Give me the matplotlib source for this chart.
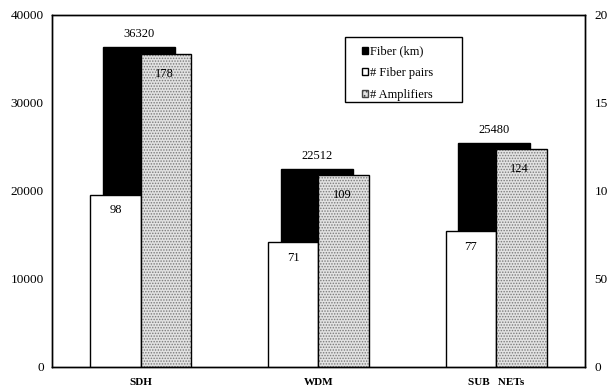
import numpy as np
import matplotlib.pyplot as plt
from matplotlib.patches import Patch, Rectangle

plt.rcParams['font.family'] = ['Liberation Serif', 'DejaVu Serif']
plt.rcParams['hatch.linewidth'] = 0.7

networks = ['SDH', 'WDM', 'SUB   NETs']
fiber_km = [36320, 22512, 25480]
fiber_pairs = [98, 71, 77]
amplifiers = [178, 109, 124]

x = np.arange(len(networks))
w = 0.285

fig = plt.figure(figsize=(6.07, 3.91), dpi=100)
ax = fig.add_axes([0.0857, 0.0614, 0.878, 0.9003])
ax2 = ax.twinx()

# fiber length on the left scale, drawn behind
ax.bar(x - 0.01, fiber_km, width=0.405, color='black', edgecolor='black', lw=1)
for xi, v in zip(x, fiber_km):
    ax.annotate(str(v), (xi - 0.01, v), xytext=(0, 5), textcoords='offset points',
                ha='center', va='bottom', fontsize=9)

# counts on the right scale
ax2.bar(x - w / 2, fiber_pairs, width=w, color='white', edgecolor='black', lw=1)
ax2.bar(x + w / 2, amplifiers, width=w, facecolor='#e2e2e2', edgecolor='#7a7a7a',
        hatch='......', lw=0)
ax2.bar(x + w / 2, amplifiers, width=w, fill=False, edgecolor='black', lw=1)

for xi, v in zip(x, fiber_pairs):
    ax2.annotate(str(v), (xi - w / 2, v), xytext=(0, -7), textcoords='offset points',
                 ha='center', va='top', fontsize=9)
for xi, v in zip(x, amplifiers):
    ax2.annotate(str(v), (xi + w / 2 - 0.01, v), xytext=(0, -10), textcoords='offset points',
                 ha='center', va='top', fontsize=9)

ax.set_xlim(-0.5, 2.5)
ax.set_ylim(0, 40000)
ax2.set_ylim(0, 200)
ax.set_yticks([0, 10000, 20000, 30000, 40000])
ax2.set_yticks([0, 50, 100, 150, 200])
ax.set_xticks(x)
ax.set_xticklabels(networks, fontweight='bold', fontsize=8)
ax.tick_params(axis='x', length=0, pad=8)
ax.tick_params(axis='y', length=0, pad=6, labelsize=9.5)
ax2.tick_params(axis='y', length=0, pad=7, labelsize=9.5)

for a in (ax, ax2):
    for s in a.spines.values():
        s.set_linewidth(1)

# legend box
ax2.add_patch(Rectangle((0.5497, 0.7528), 0.2195, 0.1847, transform=ax2.transAxes,
                        facecolor='white', edgecolor='black', lw=1, zorder=4))
handles = [
    Patch(facecolor='black', edgecolor='black', label='Fiber (km)'),
    Patch(facecolor='white', edgecolor='black', label='# Fiber pairs'),
    Patch(facecolor='#e2e2e2', edgecolor='#444444', hatch='....', label='# Amplifiers'),
]
leg = ax2.legend(handles=handles, loc='upper left', bbox_to_anchor=(0.582, 0.913),
                 fontsize=9, frameon=False, handlelength=0.5, handleheight=0.5,
                 handletextpad=0.15, labelspacing=0.78, borderpad=0, borderaxespad=0)
leg.set_zorder(5)

fig.savefig('out.png', dpi=100)
